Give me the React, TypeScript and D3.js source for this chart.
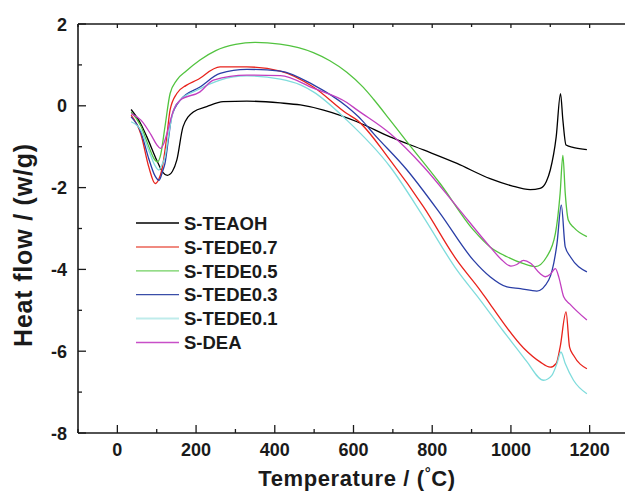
import React from "react";
import * as d3 from "d3";

const W = 625;
const H = 492;

const xTicksMajor = [0, 200, 400, 600, 800, 1000, 1200];
const xTicksMinor = [-100, 100, 300, 500, 700, 900, 1100, 1300];
const yTicksMajor = [2, 0, -2, -4, -6, -8];
const yTicksMinor = [1, -1, -3, -5, -7];

const seriesNames = ["S-TEAOH", "S-TEDE0.7", "S-TEDE0.5", "S-TEDE0.3", "S-TEDE0.1", "S-DEA"];
const seriesColors = ["#000000", "#e8231c", "#52c33f", "#2a3ea6", "#7fdcdc", "#c23fc0"];
const legendColors = ["#000000", "#f08a80", "#70d060", "#3a4ea8", "#bfeceb", "#c84fc8"];

const blackT = [35, 60, 75, 100, 115, 127, 140, 151, 167, 193, 227, 269, 329, 414, 465, 524, 609, 693, 778, 863, 947, 1000, 1049, 1074, 1090, 1100, 1115, 1126, 1132, 1140, 1160, 1193];
const blackH = [-0.09, -0.45, -0.76, -1.33, -1.62, -1.7, -1.6, -1.33, -0.51, -0.15, -0.02, 0.1, 0.115, 0.07, 0.02, -0.105, -0.39, -0.76, -1.08, -1.41, -1.78, -1.95, -2.05, -2.02, -1.85, -1.57, -0.76, 0.3, -0.35, -0.96, -1.02, -1.07];

const redT = [35, 60, 80, 96, 105, 113, 125, 134, 151, 175, 202, 261, 329, 414, 498, 583, 609, 693, 778, 863, 922, 947, 1032, 1074, 1100, 1115, 1125, 1140, 1149, 1159, 1193];
const redH = [-0.23, -0.7, -1.5, -1.9, -1.8, -1.57, -0.8, -0.1, 0.3, 0.5, 0.63, 0.95, 0.95, 0.85, 0.46, -0.19, -0.35, -1.33, -2.47, -3.78, -4.51, -4.85, -5.92, -6.26, -6.39, -6.3, -5.9, -5.04, -5.9, -6.1, -6.43];

const greenT = [35, 60, 80, 95, 102, 110, 121, 134, 151, 175, 210, 250, 300, 350, 413, 460, 498, 540, 583, 625, 651, 693, 736, 820, 905, 947, 990, 1032, 1062, 1091, 1113, 1125, 1132, 1138, 1146, 1160, 1193];
const greenH = [-0.15, -0.5, -1.0, -1.32, -1.37, -1.2, -0.51, 0.3, 0.63, 0.85, 1.12, 1.35, 1.5, 1.55, 1.51, 1.42, 1.3, 1.1, 0.82, 0.45, 0.16, -0.35, -0.88, -1.9, -3.04, -3.45, -3.69, -3.86, -3.93, -3.69, -3.12, -2.14, -1.21, -2.14, -2.8, -2.98, -3.2];

const blueT = [35, 60, 80, 95, 106, 115, 121, 130, 138, 160, 210, 261, 329, 414, 498, 583, 621, 651, 736, 820, 905, 947, 990, 1024, 1066, 1096, 1117, 1128, 1138, 1151, 1193];
const blueH = [-0.27, -0.65, -1.3, -1.7, -1.82, -1.6, -1.41, -0.8, -0.27, 0.14, 0.46, 0.79, 0.89, 0.85, 0.51, -0.02, -0.35, -0.68, -1.57, -2.63, -3.78, -4.18, -4.43, -4.47, -4.53, -4.26, -3.37, -2.43, -3.45, -3.69, -4.06];

const cyanT = [35, 60, 80, 95, 105, 113, 121, 132, 143, 160, 202, 261, 329, 414, 465, 498, 583, 693, 778, 863, 922, 980, 1020, 1040, 1083, 1104, 1117, 1127, 1138, 1159, 1193];
const cyanH = [-0.39, -0.6, -1.1, -1.45, -1.57, -1.45, -1.25, -0.6, -0.1, 0.14, 0.38, 0.63, 0.73, 0.65, 0.51, 0.34, -0.35, -1.49, -2.72, -4.02, -4.75, -5.5, -6.0, -6.25, -6.71, -6.59, -6.3, -6.02, -6.3, -6.71, -7.04];

const magentaT = [35, 60, 85, 100, 109, 118, 126, 135, 143, 160, 210, 244, 329, 414, 498, 583, 609, 693, 778, 863, 947, 975, 1000, 1015, 1032, 1050, 1074, 1087, 1100, 1113, 1122, 1134, 1150, 1193];
const magentaH = [-0.19, -0.35, -0.7, -0.95, -1.04, -0.92, -0.68, -0.35, -0.1, 0.14, 0.34, 0.63, 0.75, 0.74, 0.43, 0.08, -0.1, -0.68, -1.49, -2.47, -3.45, -3.75, -3.92, -3.88, -3.78, -3.85, -4.1, -4.18, -4.12, -3.98, -4.2, -4.67, -4.85, -5.24];

const seriesT = [blackT, redT, greenT, blueT, cyanT, magentaT];
const seriesH = [blackH, redH, greenH, blueH, cyanH, magentaH];

export default function App() {
  const left = 78;
  const right = 629;
  const top = 24;
  const bottom = 433;
  const x = d3.scaleLinear().domain([-100, 1300]).range([left, right]);
  const y = d3.scaleLinear().domain([-8, 2]).range([bottom, top]);
  const line = d3
    .line<[number, number]>()
    .x((d) => x(d[0]))
    .y((d) => y(d[1]))
    .curve(d3.curveMonotoneX);

  const font = "'Liberation Sans', Arial, Helvetica, sans-serif";
  const axisColor = "#1a1a1a";

  return (
    <svg
      width={W}
      height={H}
      style={{ position: "absolute", left: 0, top: 0, background: "#fff" }}
      fontFamily={font}
    >
      <rect x={0} y={0} width={W} height={H} fill="#fff" />
      {/* curves */}
      <g fill="none" strokeWidth={1.3} strokeLinejoin="round">
        {seriesT.map((ts, i) => {
          const pts = ts.map((t, j) => [t, seriesH[i][j]] as [number, number]);
          return <path key={i} d={line(pts) || ""} stroke={seriesColors[i]} />;
        })}
      </g>
      {/* axes lines */}
      <g stroke={axisColor} strokeWidth={1.6}>
        <line x1={left} x2={left} y1={top} y2={bottom} />
        <line x1={left} x2={W} y1={bottom} y2={bottom} />
        <line x1={left} x2={W} y1={top} y2={top} />
      </g>
      {/* ticks */}
      <g stroke={axisColor} strokeWidth={1.3}>
        {xTicksMajor.map((t) => (
          <g key={"xm" + t}>
            <line x1={x(t)} x2={x(t)} y1={bottom} y2={bottom - 8} />
            <line x1={x(t)} x2={x(t)} y1={top} y2={top + 4} />
          </g>
        ))}
        {xTicksMinor.map((t) => (
          <g key={"xn" + t}>
            <line x1={x(t)} x2={x(t)} y1={bottom} y2={bottom - 4} />
            <line x1={x(t)} x2={x(t)} y1={top} y2={top + 3} />
          </g>
        ))}
        {yTicksMajor.map((t) => (
          <line key={"ym" + t} x1={left} x2={left + 8} y1={y(t)} y2={y(t)} />
        ))}
        {yTicksMinor.map((t) => (
          <line key={"yn" + t} x1={left} x2={left + 4} y1={y(t)} y2={y(t)} />
        ))}
      </g>
      {/* tick labels */}
      <g fontSize={18} fontWeight="bold" fill="#1a1a1a">
        {xTicksMajor.map((t) => (
          <text key={"xl" + t} x={x(t)} y={456} textAnchor="middle">
            {t}
          </text>
        ))}
        {yTicksMajor.map((t) => (
          <text key={"yl" + t} x={67} y={y(t) + 6.5} textAnchor="end">
            {t}
          </text>
        ))}
      </g>
      {/* axis titles */}
      <text
        x={357}
        y={486}
        textAnchor="middle"
        fontSize={22}
        fontWeight="bold"
        fill="#1a1a1a"
        letterSpacing={0.6}
      >
        Temperature / (
        <tspan fontSize={15} dy={-8}>°</tspan>
        <tspan dy={8}>C)</tspan>
      </text>
      <text
        transform={`translate(32,245) rotate(-90)`}
        textAnchor="middle"
        fontSize={25}
        fontWeight="bold"
        fill="#1a1a1a"
        letterSpacing={0.8}
      >
        Heat flow / (w/g)
      </text>
      {/* legend */}
      <g>
        {seriesNames.map((n, i) => (
          <g key={n} transform={`translate(0,${223 + i * 23.9})`}>
            <line x1={136} x2={179} y1={0} y2={0} stroke={legendColors[i]} strokeWidth={i === 1 || i === 4 ? 2 : 1.3} />
            <text x={184} y={6.7} fontSize={18.5} fontWeight="bold" fill="#1a1a1a">
              {n}
            </text>
          </g>
        ))}
      </g>
    </svg>
  );
}
